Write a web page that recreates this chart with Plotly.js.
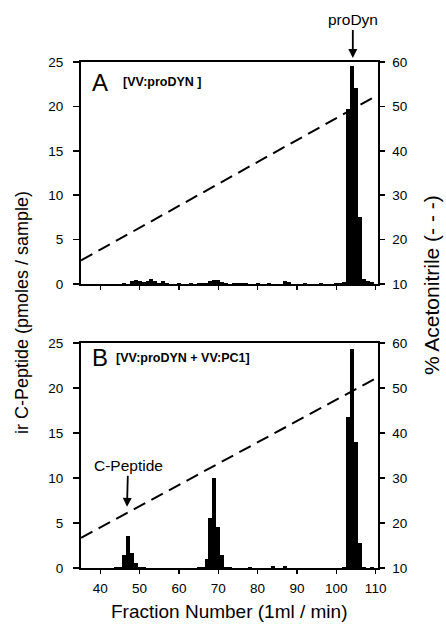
<!DOCTYPE html>
<html>
<head>
<meta charset="utf-8">
<script src="https://cdn.plot.ly/plotly-3.0.1.min.js"></script>
<style>
  html, body { margin: 0; padding: 0; background: #fff; }
  #chart { width: 446px; height: 633px; }
</style>
</head>
<body>
<div id="chart"></div>
<script>
// ---------- Data ----------
// Panel A  [VV:proDYN]
const fractionsA = [44, 46, 48, 49, 50, 51, 52, 53, 54, 55, 56, 57, 60, 63, 65, 66, 67, 68, 69, 70, 71, 72, 74, 75, 76, 77, 80, 83, 87, 88, 92, 96, 100, 101, 102, 103, 104, 105, 106, 107, 108, 109];
const irCPeptideA = [0.05, 0.1, 0.3, 0.45, 0.35, 0.2, 0.3, 0.6, 0.3, 0.15, 0.3, 0.1, 0.08, 0.1, 0.1, 0.1, 0.15, 0.3, 0.4, 0.4, 0.2, 0.1, 0.1, 0.15, 0.15, 0.1, 0.08, 0.1, 0.35, 0.2, 0.08, 0.08, 0.1, 0.15, 0.2, 19.7, 24.5, 22.1, 7.6, 0.6, 0.3, 0.2];
// Panel B  [VV:proDYN + VV:PC1]
const fractionsB = [44, 45, 46, 47, 48, 49, 50, 51, 65, 66, 67, 68, 69, 70, 71, 72, 73, 78, 84, 87, 102, 103, 104, 105, 106, 107, 109];
const irCPeptideB = [0.1, 0.1, 1.4, 3.6, 1.7, 0.55, 0.1, 0.1, 0.1, 0.15, 0.95, 5.6, 10.0, 4.6, 1.5, 0.15, 0.1, 0.08, 0.2, 0.2, 0.15, 16.8, 24.3, 14.0, 2.8, 0.1, 0.1];
// Acetonitrile gradient (dashed line), % (right axis)
const gradientFractionsA = [35.1, 110.6];
const acetonitrileA = [15.3, 52.6];
const gradientFractionsB = [35.1, 110.6];
const acetonitrileB = [16.7, 52.4];
// Tick labels
const xTicks = [40, 50, 60, 70, 80, 90, 100, 110];
const leftTicks = [0, 5, 10, 15, 20, 25];
const rightTicks = [10, 20, 30, 40, 50, 60];

// ---------- Geometry helpers (pixels -> paper) ----------
const W = 446, H = 633;
const px = v => v / W;
const py = v => 1 - v / H;
const xDom = [px(81), px(378)];
const domA = [py(284), py(62)];
const domB = [py(568), py(343)];
const xRange = [35.1, 110.6];

const FONT = '"Liberation Sans", Arial, Helvetica, sans-serif';
const INK = '#000000';

const barStyle = { color: '#000000', line: { width: 0 } };
const dashStyle = { color: '#000000', width: 2, dash: '13px,7px' };

const traces = [
  { type: 'bar', x: fractionsA, y: irCPeptideA, width: 1, marker: barStyle, xaxis: 'x', yaxis: 'y', hoverinfo: 'x+y', showlegend: false },
  { type: 'scatter', mode: 'lines', x: gradientFractionsA, y: acetonitrileA, line: dashStyle, xaxis: 'x', yaxis: 'y2', showlegend: false },
  { type: 'bar', x: fractionsB, y: irCPeptideB, width: 1, marker: barStyle, xaxis: 'x2', yaxis: 'y3', hoverinfo: 'x+y', showlegend: false },
  { type: 'scatter', mode: 'lines', x: gradientFractionsB, y: acetonitrileB, line: dashStyle, xaxis: 'x2', yaxis: 'y4', showlegend: false }
];

const tickFont = { family: FONT, size: 13.5, color: INK };

function xAxis(anchor, labels) {
  return {
    domain: xDom, range: xRange, anchor: anchor,
    tickvals: xTicks, ticktext: xTicks.map(String), showticklabels: labels,
    ticks: 'outside', ticklen: 4, tickwidth: 1.5, tickcolor: INK,
    showline: true, linewidth: 2, linecolor: INK, mirror: true,
    showgrid: false, zeroline: false, tickfont: tickFont, ticklabelstandoff: 3
  };
}
function leftAxis(anchor, dom) {
  return {
    domain: dom, range: [0, 25], anchor: anchor,
    tickvals: leftTicks, ticktext: leftTicks.map(String),
    ticks: 'outside', ticklen: 6, tickwidth: 1.5, tickcolor: INK,
    showline: true, linewidth: 2, linecolor: INK,
    showgrid: false, zeroline: false, tickfont: tickFont, ticklabelstandoff: 7
  };
}
function rightAxis(anchor, over) {
  return {
    overlaying: over, side: 'right', range: [10, 60], anchor: anchor,
    tickvals: rightTicks, ticktext: rightTicks.map(String),
    ticks: 'outside', ticklen: 5, tickwidth: 1.5, tickcolor: INK,
    showline: true, linewidth: 1.5, linecolor: INK,
    showgrid: false, zeroline: false, tickfont: tickFont, ticklabelstandoff: 5
  };
}

const annotations = [
  { xref: 'paper', yref: 'paper', x: px(100), y: py(83), text: 'A', showarrow: false, font: { family: FONT, size: 24, color: INK }, xanchor: 'center', yanchor: 'middle' },
  { xref: 'paper', yref: 'paper', x: px(121), y: py(82), text: '<b>[VV:proDYN ]</b>', showarrow: false, font: { family: FONT, size: 12.5, color: INK }, xanchor: 'left', yanchor: 'middle' },
  { xref: 'paper', yref: 'paper', x: px(100), y: py(357), text: 'B', showarrow: false, font: { family: FONT, size: 24, color: INK }, xanchor: 'center', yanchor: 'middle' },
  { xref: 'paper', yref: 'paper', x: px(114), y: py(358), text: '<b>[VV:proDYN + VV:PC1]</b>', showarrow: false, font: { family: FONT, size: 12.5, color: INK }, xanchor: 'left', yanchor: 'middle' },
  { xref: 'x', yref: 'paper', x: 104.2, y: py(58), ax: 0, ay: -38, text: 'proDyn', showarrow: true, arrowhead: 2, arrowsize: 1, arrowwidth: 1.8, arrowcolor: INK, font: { family: FONT, size: 15.5, color: INK } },
  { xref: 'x2', yref: 'y3', x: 46.8, y: 6.8, ax: 1, ay: -41, text: 'C-Peptide', showarrow: true, arrowhead: 2, arrowsize: 1, arrowwidth: 1.8, arrowcolor: INK, font: { family: FONT, size: 15.5, color: INK } },
  { xref: 'paper', yref: 'paper', x: px(22), y: py(313), text: 'ir C-Peptide (pmoles / sample)', textangle: -90, showarrow: false, font: { family: FONT, size: 18, color: INK }, xanchor: 'center', yanchor: 'middle' },
  { xref: 'paper', yref: 'paper', x: px(431), y: py(285), text: '% Acetonitrile (- - -)', textangle: -90, showarrow: false, font: { family: FONT, size: 21, color: INK }, xanchor: 'center', yanchor: 'middle' },
  { xref: 'paper', yref: 'paper', x: px(229), y: py(611), text: 'Fraction Number (1ml / min)', showarrow: false, font: { family: FONT, size: 19, color: INK }, xanchor: 'center', yanchor: 'middle' }
];

const layout = {
  width: W, height: H,
  margin: { l: 0, r: 0, t: 0, b: 0 },
  paper_bgcolor: '#ffffff', plot_bgcolor: 'rgba(0,0,0,0)',
  bargap: 0, showlegend: false,
  font: { family: FONT, color: INK },
  xaxis: xAxis('y', false),
  yaxis: leftAxis('x', domA),
  yaxis2: rightAxis('x', 'y'),
  xaxis2: xAxis('y3', true),
  yaxis3: leftAxis('x2', domB),
  yaxis4: rightAxis('x2', 'y3'),
  annotations: annotations
};

Plotly.newPlot('chart', traces, layout, { displayModeBar: false, staticPlot: true });
</script>
</body>
</html>
